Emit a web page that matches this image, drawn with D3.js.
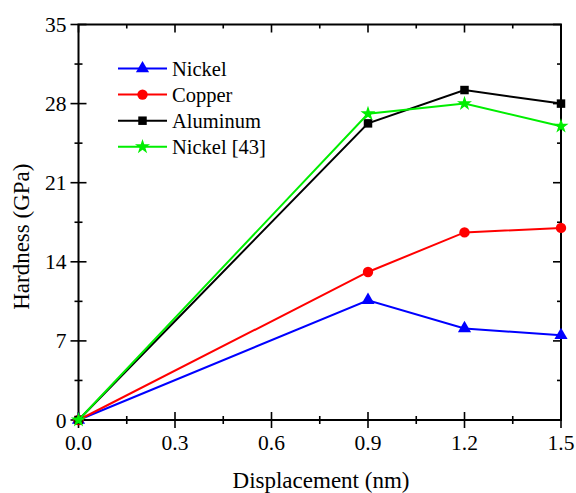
<!DOCTYPE html>
<html>
<head>
<meta charset="utf-8">
<script src="https://cdn.jsdelivr.net/npm/d3@7"></script>
<style>
  body { margin: 0; background: #fff; }
  svg { display: block; }
  svg text { font-family: 'Liberation Serif', 'DejaVu Serif', serif; }
</style>
</head>
<body>
<svg id="chart" width="576" height="493"></svg>
<script>
// Displacement (nm) and hardness (GPa) per material
const displacement = [0.0, 0.9, 1.2, 1.5];
const nickel = [0, 10.6, 8.1, 7.5];
const copper = [0, 13.1, 16.6, 17.0];
const aluminum = [0, 26.25, 29.2, 28.0];
const nickelRef = [0, 27.1, 28.0, 26.0];

const seriesNames = ["Nickel", "Copper", "Aluminum", "Nickel [43]"];
const seriesColors = ["#0000ff", "#ff0000", "#000000", "#00ee00"];
const seriesShapes = ["triangle", "circle", "square", "star"];
const seriesValues = [nickel, copper, aluminum, nickelRef];

const xTicks = [0.0, 0.3, 0.6, 0.9, 1.2, 1.5];
const yTicks = [0, 7, 14, 21, 28, 35];

const svg = d3.select("#chart");
const plotLeft = 78.5, plotRight = 561, plotTop = 24.5, plotBottom = 420;
const serif = "Liberation Serif, DejaVu Serif, serif";

const x = d3.scaleLinear().domain([0, 1.5]).range([plotLeft, plotRight]);
const y = d3.scaleLinear().domain([0, 35]).range([plotBottom, plotTop]);

const axisColor = "#000";

// Frame
svg.append("rect")
  .attr("x", plotLeft).attr("y", plotTop)
  .attr("width", plotRight - plotLeft).attr("height", plotBottom - plotTop)
  .attr("fill", "none").attr("stroke", axisColor).attr("stroke-width", 2);

// Minor tick values
const xMinor = d3.range(0.15, 1.5, 0.3);
const yMinor = d3.range(3.5, 35, 7);

const g = svg.append("g").attr("stroke", axisColor).attr("stroke-width", 1.6);

// Bottom axis ticks (crossing)
xTicks.forEach(v => g.append("line").attr("x1", x(v)).attr("x2", x(v)).attr("y1", plotBottom - 8).attr("y2", plotBottom + 8));
xMinor.forEach(v => g.append("line").attr("x1", x(v)).attr("x2", x(v)).attr("y1", plotBottom - 4).attr("y2", plotBottom + 4));
// Top axis ticks (inward)
xTicks.forEach(v => g.append("line").attr("x1", x(v)).attr("x2", x(v)).attr("y1", plotTop).attr("y2", plotTop + 8));
xMinor.forEach(v => g.append("line").attr("x1", x(v)).attr("x2", x(v)).attr("y1", plotTop).attr("y2", plotTop + 4));
// Left axis ticks (crossing)
yTicks.forEach(v => g.append("line").attr("y1", y(v)).attr("y2", y(v)).attr("x1", plotLeft - 8).attr("x2", plotLeft + 8));
yMinor.forEach(v => g.append("line").attr("y1", y(v)).attr("y2", y(v)).attr("x1", plotLeft - 4).attr("x2", plotLeft + 4));
// Right axis ticks (inward)
yTicks.forEach(v => g.append("line").attr("y1", y(v)).attr("y2", y(v)).attr("x1", plotRight - 8).attr("x2", plotRight));
yMinor.forEach(v => g.append("line").attr("y1", y(v)).attr("y2", y(v)).attr("x1", plotRight - 4).attr("x2", plotRight));

// Tick labels
svg.append("g").selectAll("text").data(xTicks).join("text")
  .attr("x", d => x(d)).attr("y", plotBottom + 30)
  .attr("text-anchor", "middle").attr("font-size", 21.5)
  .attr("font-family", serif)
  .text(d => d.toFixed(1));
svg.append("g").selectAll("text").data(yTicks).join("text")
  .attr("x", plotLeft - 12).attr("y", d => y(d) + 7.5)
  .attr("text-anchor", "end").attr("font-size", 21.5)
  .attr("font-family", serif)
  .text(d => d);

// Axis titles
svg.append("text")
  .attr("x", 321).attr("y", 488)
  .attr("text-anchor", "middle").attr("font-size", 23)
  .attr("font-family", serif)
  .text("Displacement (nm)");
svg.append("text")
  .attr("transform", `translate(28.5,236.7) rotate(-90)`)
  .attr("text-anchor", "middle").attr("font-size", 23)
  .attr("font-family", serif)
  .text("Hardness (GPa)");

// Marker shapes
const symbolFor = {
  triangle: d3.symbol().type(d3.symbolTriangle).size(75),
  circle: d3.symbol().type(d3.symbolCircle).size(85),
  square: d3.symbol().type(d3.symbolSquare).size(72),
  star: d3.symbol().type(d3.symbolStar).size(70)
};

const line = d3.line().x(d => x(d[0])).y(d => y(d[1]));

seriesValues.forEach((vals, i) => {
  const pts = displacement.map((d, j) => [d, vals[j]]);
  svg.append("path")
    .attr("d", line(pts))
    .attr("fill", "none")
    .attr("stroke", seriesColors[i])
    .attr("stroke-width", 2);
  svg.append("g").selectAll("path").data(pts).join("path")
    .attr("transform", d => `translate(${x(d[0])},${y(d[1])})`)
    .attr("d", symbolFor[seriesShapes[i]]())
    .attr("fill", seriesColors[i]);
});

// Legend
const legend = svg.append("g");
seriesNames.forEach((name, i) => {
  const ly = 68.5 + i * 26.1;
  legend.append("line")
    .attr("x1", 118).attr("x2", 167).attr("y1", ly).attr("y2", ly)
    .attr("stroke", seriesColors[i]).attr("stroke-width", 2);
  legend.append("path")
    .attr("transform", `translate(142.5,${ly})`)
    .attr("d", symbolFor[seriesShapes[i]]())
    .attr("fill", seriesColors[i]);
  legend.append("text")
    .attr("x", 172).attr("y", ly + 7)
    .attr("font-size", 20.5)
    .attr("font-family", serif)
    .text(name);
});
</script>
</body>
</html>
